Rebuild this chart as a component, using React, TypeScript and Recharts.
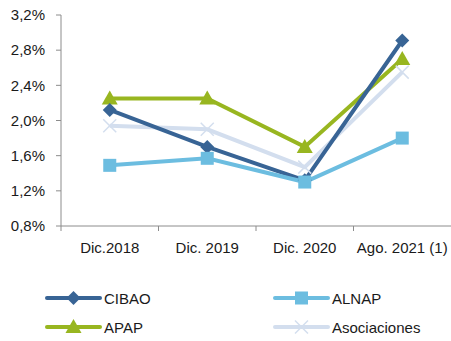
import React from 'react';
import { LineChart, Line, XAxis, YAxis } from 'recharts';

const periods = ['Dic.2018', 'Dic. 2019', 'Dic. 2020', 'Ago. 2021 (1)'];
const cibao = [2.12, 1.70, 1.32, 2.91];
const alnap = [1.49, 1.57, 1.30, 1.80];
const apap = [2.25, 2.25, 1.70, 2.70];
const asociaciones = [1.94, 1.90, 1.47, 2.55];
const yTicks = [0.8, 1.2, 1.6, 2.0, 2.4, 2.8, 3.2];

const data = periods.map((p, i) => ({
  period: p,
  CIBAO: cibao[i],
  ALNAP: alnap[i],
  APAP: apap[i],
  Asociaciones: asociaciones[i],
}));

const W = 451;
const H = 341;
const LEFT = 61;
const BAND = (W - LEFT) / periods.length;
const FONT = '"Liberation Sans", Arial, sans-serif';

const colors: Record<string, string> = {
  CIBAO: '#386495',
  ALNAP: '#6cbde0',
  APAP: '#98b620',
  Asociaciones: '#d3deee',
};

const Marker = ({ kind, cx, cy, color }: { kind: string; cx: number; cy: number; color: string }) => {
  if (kind === 'CIBAO') {
    const r = 7;
    return <polygon points={`${cx},${cy - r} ${cx + r},${cy} ${cx},${cy + r} ${cx - r},${cy}`} fill={color} />;
  }
  if (kind === 'ALNAP') {
    const s = 6.5;
    return <rect x={cx - s} y={cy - s} width={s * 2} height={s * 2} fill={color} />;
  }
  if (kind === 'APAP') {
    const r = 8;
    return <polygon points={`${cx},${cy - r} ${cx + r},${cy + r * 0.75} ${cx - r},${cy + r * 0.75}`} fill={color} />;
  }
  const r = 6.5;
  return (
    <g stroke={color} strokeWidth={1.5}>
      <line x1={cx - r} y1={cy - r} x2={cx + r} y2={cy + r} />
      <line x1={cx - r} y1={cy + r} x2={cx + r} y2={cy - r} />
    </g>
  );
};

const makeDot = (kind: string) => (props: any) => {
  const { cx, cy, index } = props;
  if (cx == null || cy == null) return <g key={index} />;
  return <Marker key={index} kind={kind} cx={cx} cy={cy} color={colors[kind]} />;
};

const XTick = (props: any) => {
  const { x, y, payload } = props;
  return (
    <g>
      <line x1={x - BAND / 2} y1={y - 8} x2={x - BAND / 2} y2={y - 3} stroke="#8c8c8c" strokeWidth={1} />
      <text x={x} y={y + 19} textAnchor="middle" fontSize={15} fontFamily={FONT} fill="#1a1a1a">
        {payload.value}
      </text>
    </g>
  );
};

const legendOrder = ['CIBAO', 'ALNAP', 'APAP', 'Asociaciones'];

const LegendBox = () => (
  <svg width={W} height={60} style={{ position: 'absolute', left: 0, top: 286 }}>
    {legendOrder.map((k, i) => {
      const col = i % 2;
      const row = Math.floor(i / 2);
      const x0 = col === 0 ? 47 : 275;
      const y0 = 12 + row * 29;
      return (
        <g key={k}>
          <line x1={x0} y1={y0} x2={x0 + 53} y2={y0} stroke={colors[k]} strokeWidth={4} strokeLinecap="round" />
          <Marker kind={k} cx={x0 + 26.5} cy={y0} color={colors[k]} />
          <text x={x0 + 57} y={y0 + 5.5} fontSize={15} fontFamily={FONT} fill="#1a1a1a">
            {k}
          </text>
        </g>
      );
    })}
  </svg>
);

const drawOrder = ['Asociaciones', 'APAP', 'CIBAO', 'ALNAP'];

export default function App() {
  return (
    <div style={{ position: 'absolute', left: 0, top: 0, width: W, height: H, background: '#fff' }}>
      <LineChart width={W} height={H} data={data} margin={{ top: 15, right: 0, left: 0, bottom: 85 }}>
        <XAxis
          dataKey="period"
          axisLine={{ stroke: '#8c8c8c' }}
          tickLine={false}
          tick={<XTick />}
          interval={0}
          height={30}
          padding={{ left: BAND / 2, right: BAND / 2 }}
        />
        <YAxis
          domain={[0.8, 3.2]}
          ticks={yTicks}
          width={LEFT}
          axisLine={{ stroke: '#8c8c8c' }}
          tickLine={{ stroke: '#8c8c8c' }}
          tickSize={5}
          tickMargin={11}
          tick={{ fontSize: 15, fontFamily: FONT, fill: '#1a1a1a' }}
          tickFormatter={(v: number) => v.toFixed(1).replace('.', ',') + '%'}
        />
        {drawOrder.map((k) => (
          <Line
            key={k}
            dataKey={k}
            stroke={colors[k]}
            strokeWidth={4}
            dot={makeDot(k)}
            activeDot={false}
            isAnimationActive={false}
          />
        ))}
      </LineChart>
      <LegendBox />
    </div>
  );
}
